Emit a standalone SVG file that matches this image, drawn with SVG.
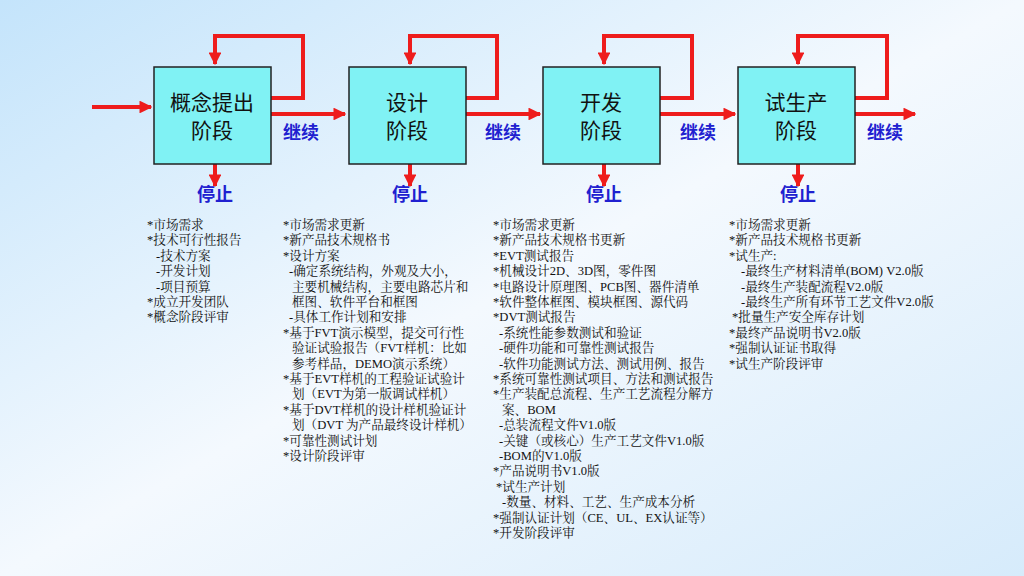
<svg xmlns="http://www.w3.org/2000/svg" width="1024" height="576" viewBox="0 0 1024 576">
<defs>
<linearGradient id="bg" x1="0" y1="0" x2="1" y2="1">
<stop offset="0" stop-color="#c4e4fb"/><stop offset="0.5" stop-color="#f4f9fe"/><stop offset="1" stop-color="#d6ebfb"/>
</linearGradient>
<marker id="ah" viewBox="0 0 10 10" refX="9" refY="5" markerWidth="3.2" markerHeight="3.2" orient="auto" markerUnits="strokeWidth"><path d="M0,0L10,5L0,10z" fill="#ee1c1c"/></marker>
<style>
.box{fill:#80f2f4;stroke:#222;stroke-width:1.5}
.bt{font-family:"Noto Sans CJK SC",sans-serif;font-size:21px;fill:#111;text-anchor:middle}
.lbl{font-family:"Noto Sans CJK SC",sans-serif;font-size:18px;font-weight:bold;fill:#2020d0;text-anchor:middle}
.ln{fill:none;stroke:#ee1c1c;stroke-width:4}
.tx{font-family:"Liberation Serif","Noto Serif CJK SC","Noto Sans CJK SC",serif;font-size:12.6px;fill:#111}
</style>
</defs>
<rect width="1024" height="576" fill="url(#bg)"/>
<g id="connectors">
<path class="ln" d="M92,107H151" marker-end="url(#ah)"/>
<path class="ln" d="M271,98H303V36H215V64" marker-end="url(#ah)"/>
<path class="ln" d="M271,114H345" marker-end="url(#ah)"/>
<path class="ln" d="M215,155V186" marker-end="url(#ah)"/>
<path class="ln" d="M466,98H497V36H410V64" marker-end="url(#ah)"/>
<path class="ln" d="M466,114H540" marker-end="url(#ah)"/>
<path class="ln" d="M410,155V186" marker-end="url(#ah)"/>
<path class="ln" d="M660,98H692V36H604V64" marker-end="url(#ah)"/>
<path class="ln" d="M660,114H735" marker-end="url(#ah)"/>
<path class="ln" d="M604,155V186" marker-end="url(#ah)"/>
<path class="ln" d="M855,98H887V36H798V64" marker-end="url(#ah)"/>
<path class="ln" d="M855,114H915" marker-end="url(#ah)"/>
<path class="ln" d="M798,155V186" marker-end="url(#ah)"/>
<text class="lbl" x="301" y="139">继续</text>
<text class="lbl" x="503" y="139">继续</text>
<text class="lbl" x="698" y="139">继续</text>
<text class="lbl" x="885" y="139">继续</text>
<text class="lbl" x="215" y="201">停止</text>
<text class="lbl" x="410" y="201">停止</text>
<text class="lbl" x="604" y="201">停止</text>
<text class="lbl" x="798" y="201">停止</text>
</g>
<g id="n1"><rect class="box" x="154" y="67" width="117" height="97"/><text class="bt" x="212" y="110">概念提出</text><text class="bt" x="212" y="138">阶段</text></g>
<g id="n2"><rect class="box" x="349" y="67" width="117" height="97"/><text class="bt" x="407" y="110">设计</text><text class="bt" x="407" y="138">阶段</text></g>
<g id="n3"><rect class="box" x="543" y="67" width="117" height="97"/><text class="bt" x="601" y="110">开发</text><text class="bt" x="601" y="138">阶段</text></g>
<g id="n4"><rect class="box" x="738" y="67" width="117" height="97"/><text class="bt" x="796" y="110">试生产</text><text class="bt" x="796" y="138">阶段</text></g>
<g id="t1">
<text class="tx" x="147" y="229">*市场需求</text>
<text class="tx" x="147" y="244.4">*技术可行性报告</text>
<text class="tx" x="156" y="259.8">-技术方案</text>
<text class="tx" x="156" y="275.2">-开发计划</text>
<text class="tx" x="156" y="290.6">-项目预算</text>
<text class="tx" x="147" y="306">*成立开发团队</text>
<text class="tx" x="147" y="321.4">*概念阶段评审</text>
</g>
<g id="t2">
<text class="tx" x="283" y="229">*市场需求更新</text>
<text class="tx" x="283" y="244.4">*新产品技术规格书</text>
<text class="tx" x="283" y="259.8">*设计方案</text>
<text class="tx" x="289" y="275.2">-确定系统结构，外观及大小，</text>
<text class="tx" x="292" y="290.6">主要机械结构，主要电路芯片和</text>
<text class="tx" x="292" y="306">框图、软件平台和框图</text>
<text class="tx" x="289" y="321.4">-具体工作计划和安排</text>
<text class="tx" x="283" y="336.8">*基于FVT演示模型，提交可行性</text>
<text class="tx" x="292" y="352.2">验证试验报告（FVT样机：比如</text>
<text class="tx" x="292" y="367.6">参考样品，DEMO演示系统）</text>
<text class="tx" x="283" y="383">*基于EVT样机的工程验证试验计</text>
<text class="tx" x="292" y="398.4">划（EVT为第一版调试样机）</text>
<text class="tx" x="283" y="413.8">*基于DVT样机的设计样机验证计</text>
<text class="tx" x="292" y="429.2">划（DVT 为产品最终设计样机）</text>
<text class="tx" x="283" y="444.6">*可靠性测试计划</text>
<text class="tx" x="283" y="460">*设计阶段评审</text>
</g>
<g id="t3">
<text class="tx" x="493" y="229">*市场需求更新</text>
<text class="tx" x="493" y="244.4">*新产品技术规格书更新</text>
<text class="tx" x="493" y="259.8">*EVT测试报告</text>
<text class="tx" x="493" y="275.2">*机械设计2D、3D图，零件图</text>
<text class="tx" x="493" y="290.6">*电路设计原理图、PCB图、器件清单</text>
<text class="tx" x="493" y="306">*软件整体框图、模块框图、源代码</text>
<text class="tx" x="493" y="321.4">*DVT测试报告</text>
<text class="tx" x="499" y="336.8">-系统性能参数测试和验证</text>
<text class="tx" x="499" y="352.2">-硬件功能和可靠性测试报告</text>
<text class="tx" x="499" y="367.6">-软件功能测试方法、测试用例、报告</text>
<text class="tx" x="493" y="383">*系统可靠性测试项目、方法和测试报告</text>
<text class="tx" x="493" y="398.4">*生产装配总流程、生产工艺流程分解方</text>
<text class="tx" x="502" y="413.8">案、BOM</text>
<text class="tx" x="499" y="429.2">-总装流程文件V1.0版</text>
<text class="tx" x="499" y="444.6">-关键（或核心）生产工艺文件V1.0版</text>
<text class="tx" x="499" y="460">-BOM的V1.0版</text>
<text class="tx" x="493" y="475.4">*产品说明书V1.0版</text>
<text class="tx" x="496" y="490.8">*试生产计划</text>
<text class="tx" x="502" y="506.2">-数量、材料、工艺、生产成本分析</text>
<text class="tx" x="493" y="521.6">*强制认证计划（CE、UL、EX认证等）</text>
<text class="tx" x="493" y="537">*开发阶段评审</text>
</g>
<g id="t4">
<text class="tx" x="729" y="229">*市场需求更新</text>
<text class="tx" x="729" y="244.4">*新产品技术规格书更新</text>
<text class="tx" x="729" y="259.8">*试生产:</text>
<text class="tx" x="741" y="275.2">-最终生产材料清单(BOM) V2.0版</text>
<text class="tx" x="741" y="290.6">-最终生产装配流程V2.0版</text>
<text class="tx" x="741" y="306">-最终生产所有环节工艺文件V2.0版</text>
<text class="tx" x="732" y="321.4">*批量生产安全库存计划</text>
<text class="tx" x="729" y="336.8">*最终产品说明书V2.0版</text>
<text class="tx" x="729" y="352.2">*强制认证证书取得</text>
<text class="tx" x="729" y="367.6">*试生产阶段评审</text>
</g>
</svg>
